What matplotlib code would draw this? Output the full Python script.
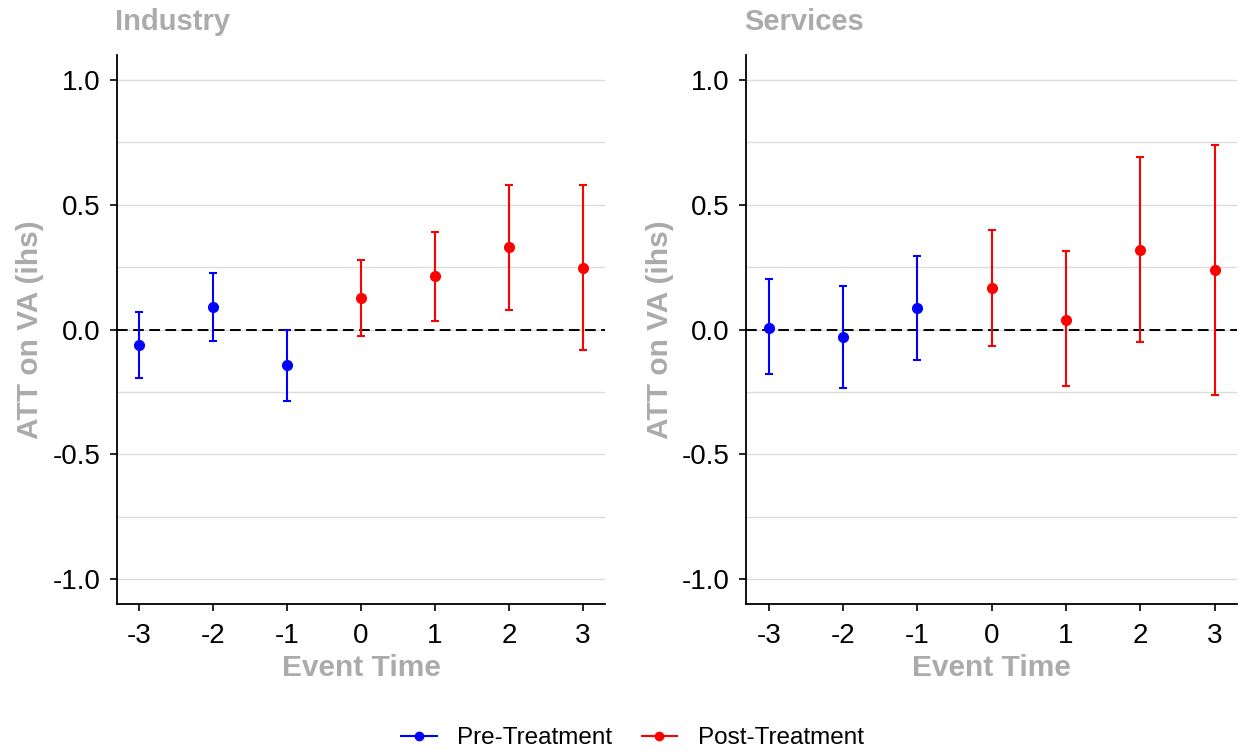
import matplotlib.pyplot as plt
from matplotlib.lines import Line2D
import numpy as np

plt.rcParams['font.family'] = ['Liberation Sans', 'DejaVu Sans']

event_time = [-3, -2, -1, 0, 1, 2, 3]

# Industry
ind_est = [-0.060, 0.090, -0.143, 0.128, 0.216, 0.329, 0.247]
ind_lo = [-0.195, -0.045, -0.288, -0.025, 0.036, 0.078, -0.082]
ind_hi = [0.072, 0.228, 0.000, 0.280, 0.393, 0.580, 0.580]

# Services
srv_est = [0.008, -0.031, 0.086, 0.166, 0.040, 0.320, 0.240]
srv_lo = [-0.178, -0.235, -0.122, -0.067, -0.228, -0.048, -0.262]
srv_hi = [0.202, 0.174, 0.293, 0.400, 0.313, 0.690, 0.740]

titles = ['Industry', 'Services']
grey = '#ababab'

fig = plt.figure(figsize=(12.45, 7.55), dpi=100)
ax1 = fig.add_axes([0.0940, 0.2, 0.392, 0.727])
ax2 = fig.add_axes([0.5995, 0.2, 0.394, 0.727])

panels = [(ax1, ind_est, ind_lo, ind_hi), (ax2, srv_est, srv_lo, srv_hi)]
for i, (ax, est, lo, hi) in enumerate(panels):
    x = np.array(event_time)
    est = np.array(est)
    err = np.vstack([est - np.array(lo), np.array(hi) - est])
    for mask, col in [(x < 0, 'blue'), (x >= 0, 'red')]:
        ax.errorbar(x[mask], est[mask], yerr=err[:, mask], fmt='o', color=col,
                    ms=7, elinewidth=1.5, capsize=2.6, capthick=1.5, zorder=3)
    ax.axhline(0, color='black', ls=(0, (5.5, 2.8)), lw=1.4, zorder=2)
    ax.set_xlim(-3.3, 3.3)
    ax.set_ylim(-1.1, 1.1)
    ax.set_xticks(event_time)
    ax.set_xticklabels([str(v) for v in event_time])
    ax.set_yticks([-1.0, -0.5, 0.0, 0.5, 1.0])
    ax.set_yticklabels(['-1.0', '-0.5', '0.0', '0.5', '1.0'])
    ax.set_yticks([-0.75, -0.25, 0.25, 0.75], minor=True)
    ax.grid(axis='y', which='both', color='#dcdcdc', lw=1, zorder=0)
    ax.set_axisbelow(True)
    for s in ['top', 'right']:
        ax.spines[s].set_visible(False)
    for s in ['left', 'bottom']:
        ax.spines[s].set_linewidth(1.3)
    ax.tick_params(axis='both', which='major', labelsize=20, length=5, width=1.2,
                   colors='black')
    ax.tick_params(axis='x', which='major', pad=8.5)
    ax.tick_params(axis='y', which='major', pad=7)
    ax.tick_params(axis='y', which='minor', length=0)
    ax.set_xlabel('Event Time', fontsize=21.5, fontweight='bold', color=grey, labelpad=4)
    ax.set_ylabel('ATT on VA (ihs)', fontsize=21.5, fontweight='bold', color=grey, labelpad=6)
    ax.set_title(titles[i], loc='left', fontsize=21, fontweight='bold', color=grey, pad=18, x=-0.004)

handles = [Line2D([], [], color='blue', marker='o', ms=6, lw=1.5),
           Line2D([], [], color='red', marker='o', ms=6, lw=1.5)]
fig.legend(handles=handles, labels=['Pre-Treatment', 'Post-Treatment'], loc='center',
           bbox_to_anchor=(0.508, 0.022), ncol=2, frameon=False, fontsize=17.5,
           handlelength=1.45, handletextpad=0.85, columnspacing=1.2)

fig.savefig('out.png', dpi=100)
